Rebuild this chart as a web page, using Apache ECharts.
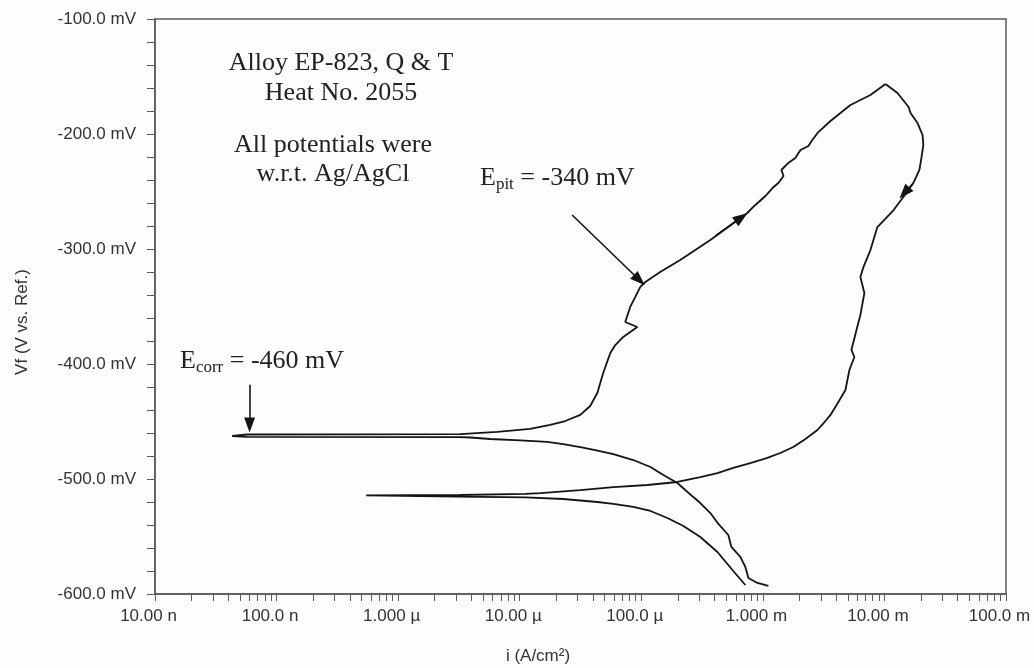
<!DOCTYPE html>
<html>
<head>
<meta charset="utf-8">
<title>Cyclic polarization - Alloy EP-823</title>
<script src="https://cdn.jsdelivr.net/npm/echarts@6.0.0/dist/echarts.min.js"></script>
<style>
  html, body { margin: 0; padding: 0; background: #fdfdfd; }
  #chart { width: 1034px; height: 668px; }
</style>
</head>
<body>
<div id="chart"></div>
<script>
// forward scan: cathodic end -> Ecorr -> pitting -> vertex (i in A/cm2, Vf in mV)
const forwardCurrent = [
  1.11e-3, 9.02e-4, 7.60e-4, 7.18e-4, 6.53e-4, 5.51e-4, 5.20e-4, 4.31e-4, 3.70e-4, 3.06e-4,
  2.68e-4, 2.30e-4, 1.98e-4, 1.52e-4, 1.19e-4, 8.59e-5, 5.89e-5, 4.18e-5, 3.15e-5, 2.28e-5,
  1.68e-5, 1.01e-5, 5.71e-6, 3.92e-6, 3.24e-6, 5.71e-8, 4.31e-8, 5.71e-8, 3.24e-6, 6.53e-6,
  1.22e-5, 1.78e-5, 2.37e-5, 3.15e-5, 3.80e-5, 4.35e-5, 4.86e-5, 5.56e-5, 6.11e-5, 7.11e-5,
  9.27e-5, 7.38e-5, 8.11e-5, 8.93e-5, 9.82e-5, 1.08e-4, 1.43e-4, 2.09e-4, 3.70e-4, 7.44e-4,
  8.67e-4, 1.05e-3, 1.20e-3, 1.34e-3, 1.48e-3, 1.42e-3, 1.62e-3, 1.85e-3, 2.04e-3, 2.37e-3,
  2.55e-3, 2.86e-3, 3.60e-3, 5.25e-3, 7.67e-3, 1.02e-2
];
const forwardPotential = [
  -593.0, -590.4, -586.1, -576.5, -567.8, -559.1, -548.7, -539.1, -529.6, -520.9,
  -515.7, -509.6, -503.5, -496.5, -489.6, -483.5, -478.3, -474.8, -472.2, -469.6,
  -467.8, -466.5, -465.2, -463.9, -463.6, -463.3, -462.6, -461.3, -460.9, -459.1,
  -456.5, -453.0, -449.6, -444.3, -436.5, -425.2, -407.8, -390.4, -383.5, -376.5,
  -367.8, -363.5, -350.4, -341.7, -333.0, -328.7, -320.0, -309.6, -292.2, -268.7,
  -261.7, -253.9, -247.0, -242.6, -236.5, -231.3, -225.2, -220.9, -213.9, -210.4,
  -205.2, -198.3, -188.7, -174.8, -166.1, -156.5
];

// reverse scan: vertex -> repassivation -> cathodic end
const reverseCurrent = [
  1.02e-2, 1.28e-2, 1.58e-2, 1.64e-2, 1.87e-2, 2.06e-2, 2.09e-2, 2.02e-2, 1.94e-2, 1.73e-2,
  1.43e-2, 1.19e-2, 8.75e-3, 7.67e-3, 6.72e-3, 6.34e-3, 6.84e-3, 6.34e-3, 5.89e-3, 5.35e-3,
  5.66e-3, 5.15e-3, 4.78e-3, 4.18e-3, 3.60e-3, 3.27e-3, 2.81e-3, 2.24e-3, 1.78e-3, 1.39e-3,
  1.09e-3, 7.88e-4, 5.71e-4, 4.23e-4, 3.06e-4, 1.98e-4, 1.12e-4, 5.89e-5, 3.15e-5, 1.48e-5,
  1.11e-5, 3.24e-6, 5.46e-7, 3.06e-6, 1.11e-5, 2.28e-5, 4.35e-5, 5.89e-5, 8.59e-5, 1.19e-4,
  1.64e-4, 2.22e-4, 3.06e-4, 4.23e-4, 5.71e-4, 7.18e-4
];
const reversePotential = [
  -156.5, -164.3, -176.5, -181.7, -190.4, -200.9, -209.6, -220.0, -231.3, -242.6,
  -254.8, -266.1, -280.9, -300.9, -315.7, -324.3, -338.3, -357.4, -370.4, -387.8,
  -393.9, -405.2, -422.6, -433.0, -444.3, -449.6, -457.4, -465.2, -472.2, -477.4,
  -481.7, -486.1, -490.4, -494.8, -498.3, -502.6, -505.2, -507.0, -509.6, -512.2,
  -513.0, -513.9, -514.3, -515.4, -515.9, -517.4, -520.0, -521.7, -524.3, -527.8,
  -533.9, -540.9, -550.4, -563.5, -580.0, -592.2
];

// annotation arrows [fromCurrent, fromPotential, toCurrent, toPotential]
const ecorrArrow = [6.0e-8, -418, 6.0e-8, -453];
const epitArrow = [2.70e-5, -270.4, 9.64e-5, -327];
const forwardDirArrow = [4.06e-4, -288.7, 6.65e-4, -272.6];
const reverseDirArrow = [1.73e-2, -242.6, 1.46e-2, -251.3];

const xTickLabels = ['10.00 n', '100.0 n', '1.000 µ', '10.00 µ', '100.0 µ', '1.000 m', '10.00 m', '100.0 m'];

var chart = echarts.init(document.getElementById('chart'));

const axisGrey = '#5a5a5a';
const inkColor = '#141414';
const sansFont = '"Liberation Sans", Arial, sans-serif';
const serifFont = '"Liberation Serif", "Times New Roman", serif';

// log minor tick positions (1..9 per decade), in log10 units
const minorTicks = [];
for (let e = -8; e < -1; e++) {
  for (let m = 1; m <= 9; m++) minorTicks.push(e + Math.log10(m));
}
minorTicks.push(-1);

function toPairs(xs, ys) {
  return xs.map((x, k) => [x, ys[k]]);
}
function arrowLine(a) {
  return [{ coord: [a[0], a[1]] }, { coord: [a[2], a[3]] }];
}

var option = {
  backgroundColor: '#fdfdfd',
  animation: false,
  grid: {
    left: 155, right: 28, top: 19, bottom: 74,
    show: true, borderColor: axisGrey, borderWidth: 1.5, backgroundColor: 'transparent'
  },
  xAxis: [
    {
      type: 'log',
      logBase: 10,
      min: 1e-8,
      max: 1e-1,
      position: 'bottom',
      axisLine: { lineStyle: { color: axisGrey, width: 1.5 } },
      axisTick: { show: false },
      splitLine: { show: false },
      axisLabel: {
        color: '#333',
        fontFamily: sansFont,
        fontSize: 17,
        margin: 14,
        padding: [0, 13, 0, 0],
        formatter: function (v) {
          return xTickLabels[Math.round(Math.log10(v)) + 8];
        }
      }
    },
    {
      // only carries the log-decade tick marks
      type: 'value',
      min: -8,
      max: -1,
      position: 'bottom',
      axisLine: { show: false },
      axisLabel: { show: false },
      splitLine: { show: false },
      axisTick: {
        show: true,
        length: 7,
        customValues: minorTicks,
        lineStyle: { color: axisGrey, width: 1 }
      }
    }
  ],
  yAxis: {
    type: 'value',
    min: -600,
    max: -100,
    interval: 100,
    axisLine: { show: true, lineStyle: { color: axisGrey, width: 1.5 } },
    axisTick: { show: true, length: 8, lineStyle: { color: axisGrey } },
    minorTick: { show: true, splitNumber: 5, length: 8, lineStyle: { color: axisGrey } },
    splitLine: { show: false },
    axisLabel: {
      color: '#333',
      fontFamily: sansFont,
      fontSize: 17,
      margin: 19,
      formatter: function (v) { return v.toFixed(1) + ' mV'; }
    }
  },
  series: [
    {
      name: 'Forward',
      type: 'line',
      data: toPairs(forwardCurrent, forwardPotential),
      showSymbol: false,
      lineStyle: { color: inkColor, width: 1.8 },
      markLine: {
        silent: true,
        symbol: ['none', 'triangle'],
        symbolSize: [11, 15],
        label: { show: false },
        lineStyle: { color: inkColor, width: 1.6, type: 'solid' },
        data: [arrowLine(ecorrArrow), arrowLine(epitArrow), arrowLine(forwardDirArrow)]
      }
    },
    {
      name: 'Reverse',
      type: 'line',
      data: toPairs(reverseCurrent, reversePotential),
      showSymbol: false,
      lineStyle: { color: inkColor, width: 1.8 },
      markLine: {
        silent: true,
        symbol: ['none', 'triangle'],
        symbolSize: [11, 15],
        label: { show: false },
        lineStyle: { color: inkColor, width: 1.6, type: 'solid' },
        data: [arrowLine(reverseDirArrow)]
      }
    }
  ],
  graphic: [
    { type: 'text', x: 341, y: 63, style: { text: 'Alloy EP-823, Q & T', font: '26px ' + serifFont, fill: '#222', align: 'center', verticalAlign: 'middle' } },
    { type: 'text', x: 341, y: 93, style: { text: 'Heat No. 2055', font: '26px ' + serifFont, fill: '#222', align: 'center', verticalAlign: 'middle' } },
    { type: 'text', x: 333, y: 145, style: { text: 'All potentials were', font: '26px ' + serifFont, fill: '#222', align: 'center', verticalAlign: 'middle' } },
    { type: 'text', x: 333, y: 174, style: { text: 'w.r.t. Ag/AgCl', font: '26px ' + serifFont, fill: '#222', align: 'center', verticalAlign: 'middle' } },
    {
      type: 'text', x: 180, y: 361,
      style: {
        text: '{m|E}{s|corr}{m| = -460 mV}',
        align: 'left', verticalAlign: 'middle', fill: '#222',
        rich: {
          m: { fontFamily: serifFont, fontSize: 26, lineHeight: 30 },
          s: { fontFamily: serifFont, fontSize: 17, lineHeight: 17, padding: [13, 0, 0, 0] }
        }
      }
    },
    {
      type: 'text', x: 480, y: 178,
      style: {
        text: '{m|E}{s|pit}{m| = -340 mV}',
        align: 'left', verticalAlign: 'middle', fill: '#222',
        rich: {
          m: { fontFamily: serifFont, fontSize: 26, lineHeight: 30 },
          s: { fontFamily: serifFont, fontSize: 17, lineHeight: 17, padding: [13, 0, 0, 0] }
        }
      }
    },
    { type: 'text', x: 538, y: 656, style: { text: 'i (A/cm²)', font: '17px ' + sansFont, fill: '#333', align: 'center', verticalAlign: 'middle' } },
    { type: 'text', x: 22, y: 322, rotation: Math.PI / 2, style: { text: 'Vf (V vs. Ref.)', font: '17px ' + sansFont, fill: '#333', align: 'center', verticalAlign: 'middle' } }
  ]
};

chart.setOption(option);
window.addEventListener('resize', chart.resize);
</script>
</body>
</html>
